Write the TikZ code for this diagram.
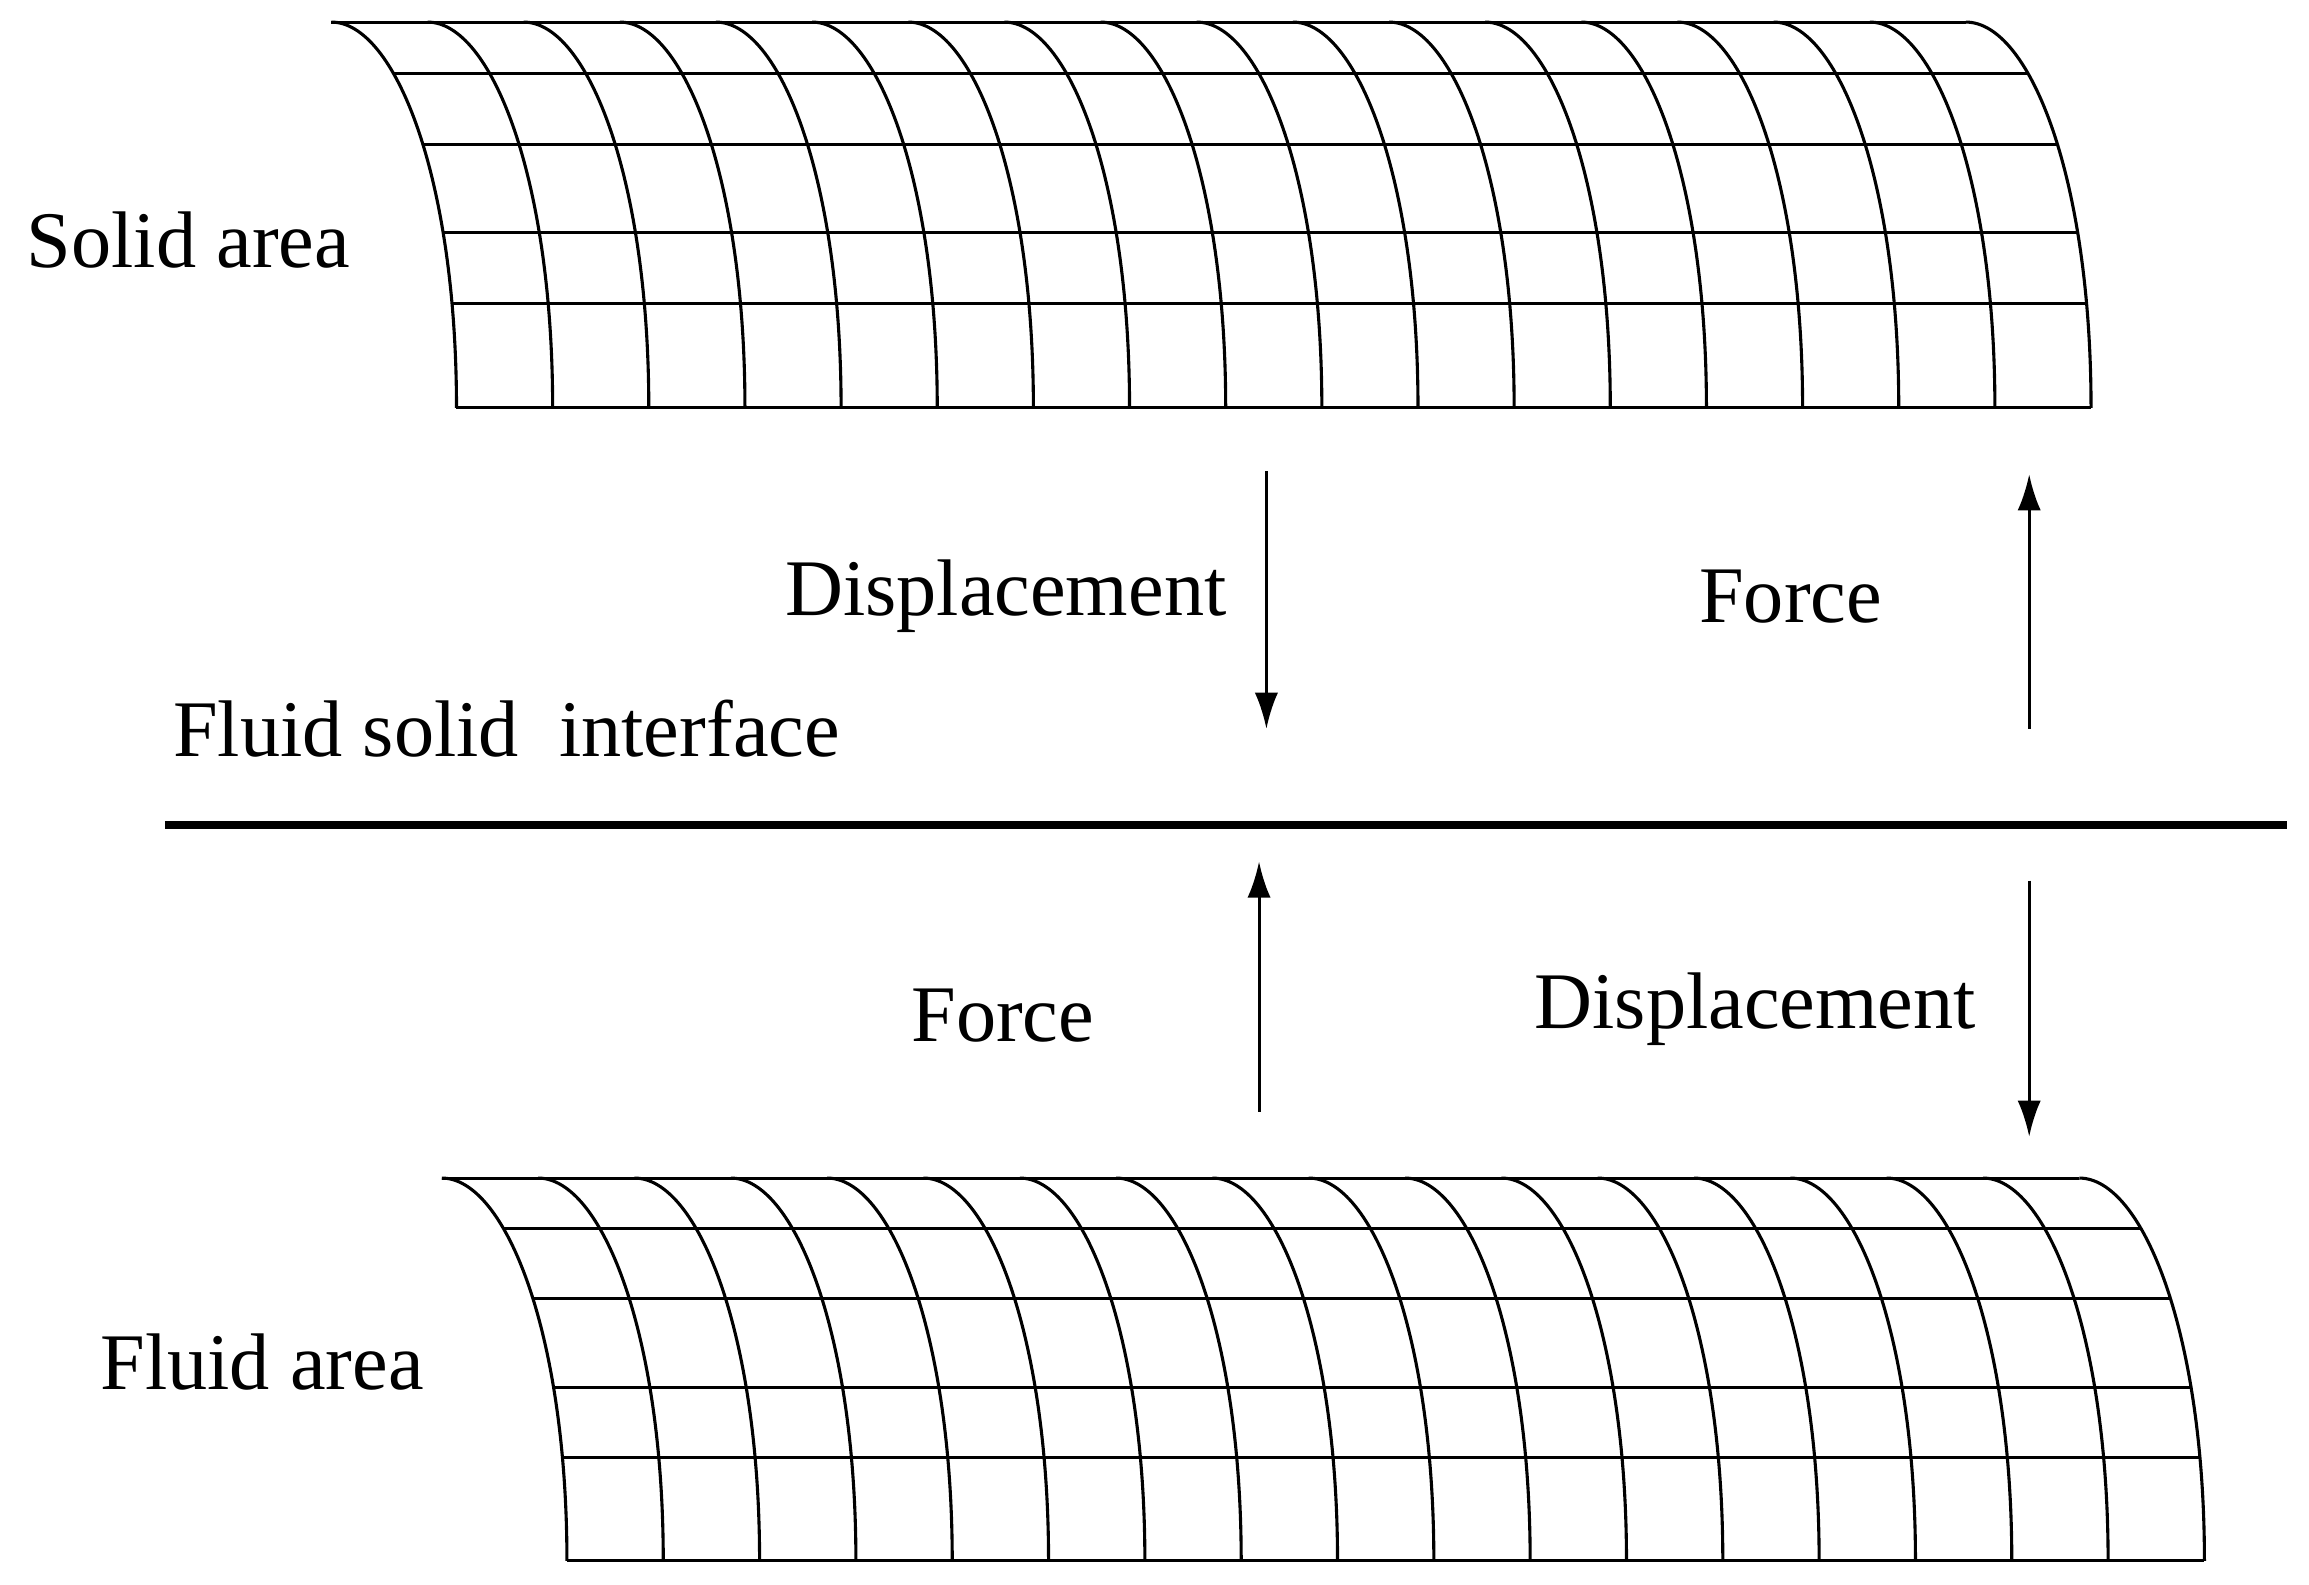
\documentclass[tikz,border=0pt]{standalone}
\usepackage{fontspec}
\setmainfont{Liberation Serif}
\usetikzlibrary{arrows.meta,positioning}

% one meshed shell: left-top corner #1,#2; width #3, height #4, rows #5
\newcommand{\meshshell}[5]{%
  \begin{scope}[shift={(#1,#2)}]
    \begin{scope}
      \clip (0,0) .. controls (43,0) and (85,105) .. (85,#4) -- (85+#3,#4)
            .. controls (85+#3,105) and (43+#3,0) .. (#3,0) -- cycle;
      \foreach \hy in {#5}
        \draw [mesh] (0,\hy) -- (85+#3,\hy);
    \end{scope}
    \foreach \k in {0,...,17}
      \draw [mesh] ({\k*(#3/17)},0) .. controls ({43+\k*(#3/17)},0) and ({85+\k*(#3/17)},105) .. ({85+\k*(#3/17)},#4);
    \draw [mesh] (0,0) -- (#3,0);
    \draw [mesh] (85,#4) -- (85+#3,#4);
  \end{scope}}

\begin{document}
\begin{tikzpicture}[x=0.01cm, y=-0.01cm]
        % Define styles
        \tikzstyle{mesh} = [line width=0.6pt]
        \tikzstyle{arrow} = [line width=0.6pt,-{Latex[length=7pt,width=4.5pt]}]
        \tikzstyle{lbl} = [font=\fontsize{15.5}{18}\selectfont, inner sep=0pt]

        \useasboundingbox (0,0) rectangle (1568,1076);

        % Meshes
        \meshshell{225}{15}{1110}{262}{35,83,143,191}
        \meshshell{300}{800}{1112}{260}{34,82,142,190}

        % Interface
        \coordinate (ifl) at (112,560);
        \coordinate (ifr) at (1553,560);
        \draw [line width=1.5pt] (ifl) -- (ifr);

        % Labels
        \node [lbl] (solid) at (128,163) {Solid area};
        \node [lbl] (fluid) at (178,925) {Fluid area};
        \node [lbl, anchor=west] (iface) at (117,495) {Fluid solid \ interface};
        \node [lbl] (disp1) at (683,405) {Displacement};
        \node [lbl] (force1) at (1216,405) {Force};
        \node [lbl] (force2) at (681,690) {Force};
        \node [lbl] (disp2) at (1192,685) {Displacement};

        % Arrows
        \coordinate (a1) at (860,320);  \coordinate (b1) at (860,495);
        \coordinate (a2) at (1378,495); \coordinate (b2) at (1378,322);
        \coordinate (a3) at (855,755);  \coordinate (b3) at (855,585);
        \coordinate (a4) at (1378,598); \coordinate (b4) at (1378,772);
        \draw [arrow] (a1) -- (b1);
        \draw [arrow] (a2) -- (b2);
        \draw [arrow] (a3) -- (b3);
        \draw [arrow] (a4) -- (b4);
\end{tikzpicture}
\end{document}
